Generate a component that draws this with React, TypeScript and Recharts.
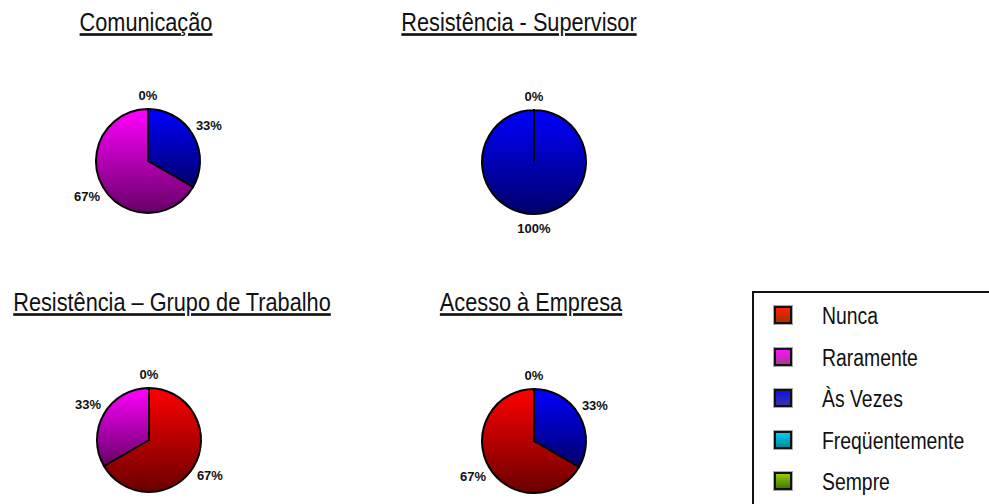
import React from 'react';
import { PieChart, Pie, Cell } from 'recharts';

const categories = ['Nunca', 'Raramente', 'Às Vezes', 'Freqüentemente', 'Sempre'];
const titles = ['Comunicação', 'Resistência - Supervisor', 'Resistência – Grupo de Trabalho', 'Acesso à Empresa'];

const comunicacao = [
  { name: 'Às Vezes', value: 1 },
  { name: 'Raramente', value: 2 },
  { name: 'Nunca', value: 0 },
];
const supervisor = [
  { name: 'Nunca', value: 0 },
  { name: 'Às Vezes', value: 3 },
];
const grupo = [
  { name: 'Nunca', value: 2 },
  { name: 'Raramente', value: 1 },
  { name: 'Às Vezes', value: 0 },
];
const acesso = [
  { name: 'Às Vezes', value: 1 },
  { name: 'Nunca', value: 2 },
  { name: 'Raramente', value: 0 },
];

const sliceColors: Record<string, [string, string]> = {
  'Nunca': ['#ff0000', '#6a0000'],
  'Raramente': ['#ff00ff', '#660066'],
  'Às Vezes': ['#0000ff', '#00006a'],
  'Freqüentemente': ['#00ccff', '#006680'],
  'Sempre': ['#99cc00', '#3a6a00'],
};
const legendColors: Record<string, [string, string]> = {
  'Nunca': ['#ff2000', '#a83000'],
  'Raramente': ['#ff10ff', '#a03c90'],
  'Às Vezes': ['#1010f0', '#3434a0'],
  'Freqüentemente': ['#00ccf8', '#008a99'],
  'Sempre': ['#99cc00', '#3c7a00'],
};

const gradId = (name: string) => 'g' + categories.indexOf(name);

const FONT = "'Liberation Sans', Arial, sans-serif";
const SQUASH = 0.82;

const renderLabel = (p: any) => {
  const { cx, cy, midAngle, outerRadius, percent } = p;
  const RAD = Math.PI / 180;
  const c = Math.cos(-midAngle * RAD);
  const s = Math.sin(-midAngle * RAD);
  const d = outerRadius + 14 + 5 * Math.abs(c);
  return (
    <text
      x={cx + d * c}
      y={cy + d * s}
      textAnchor="middle"
      dominantBaseline="central"
      fontFamily={FONT}
      fontWeight="bold"
      fontSize={13}
      fill="#111"
    >
      {Math.round(percent * 100)}%
    </text>
  );
};

const pies = [
  { data: comunicacao, cx: 148, cy: 161 },
  { data: supervisor, cx: 534, cy: 162 },
  { data: grupo, cx: 149, cy: 440 },
  { data: acesso, cx: 534, cy: 441 },
];

const titlePos = [
  { x: 146, y: 31 },
  { x: 519, y: 31 },
  { x: 172, y: 311 },
  { x: 531, y: 311 },
];

export default function App() {
  return (
    <div style={{ position: 'absolute', left: 0, top: 0, width: 989, height: 504, overflow: 'hidden', background: '#fff' }}>
      <svg width={0} height={0} style={{ position: 'absolute' }}>
        <defs>
          {categories.map((c) => (
            <linearGradient key={c} id={gradId(c)} x1="0" y1="0" x2="0" y2="1">
              <stop offset="0%" stopColor={sliceColors[c][0]} />
              <stop offset="100%" stopColor={sliceColors[c][1]} />
            </linearGradient>
          ))}
        </defs>
      </svg>
      <div style={{ position: 'absolute', left: 0, top: 0 }}>
        <PieChart width={989} height={504} margin={{ top: 0, right: 0, bottom: 0, left: 0 }}>
          {pies.map((p, i) => (
            <Pie
              key={i}
              data={p.data}
              dataKey="value"
              nameKey="name"
              cx={p.cx}
              cy={p.cy}
              outerRadius={52}
              startAngle={90}
              endAngle={-270}
              stroke="#000"
              strokeWidth={2}
              label={renderLabel}
              labelLine={false}
              isAnimationActive={false}
            >
              {p.data.map((d) => (
                <Cell key={d.name} fill={`url(#${gradId(d.name)})`} />
              ))}
            </Pie>
          ))}
        </PieChart>
      </div>
      <svg width={989} height={504} style={{ position: 'absolute', left: 0, top: 0, pointerEvents: 'none' }}>
        {titles.map((t, i) => (
          <text
            key={t}
            transform={`translate(${titlePos[i].x},${titlePos[i].y}) scale(${SQUASH},1)`}
            x={0}
            y={0}
            textAnchor="middle"
            fontFamily={FONT}
            fontSize={26.5}
            fill="#111"
            style={{ textDecoration: 'underline' }}
          >
            {t}
          </text>
        ))}
      </svg>
      <div
        style={{
          position: 'absolute',
          left: 752,
          top: 291,
          width: 300,
          height: 300,
          border: '2px solid #111',
          boxSizing: 'border-box',
        }}
      />
      {categories.map((c, i) => {
        const cy = 315 + i * 41.5;
        return (
          <React.Fragment key={c}>
            <div
              style={{
                position: 'absolute',
                left: 774,
                top: cy - 9,
                width: 18,
                height: 18,
                boxSizing: 'border-box',
                border: '2px solid #111',
                boxShadow: '0 0 0 1px #aaa',
                background: `linear-gradient(to bottom, ${legendColors[c][0]}, ${legendColors[c][1]})`,
              }}
            />
            <div
              style={{
                position: 'absolute',
                left: 822,
                top: cy - 14,
                height: 30,
                lineHeight: '30px',
                fontFamily: FONT,
                fontSize: 23.5,
                color: '#111',
                whiteSpace: 'nowrap',
                transform: `scaleX(0.825)`,
                transformOrigin: 'left center',
              }}
            >
              {c}
            </div>
          </React.Fragment>
        );
      })}
    </div>
  );
}
